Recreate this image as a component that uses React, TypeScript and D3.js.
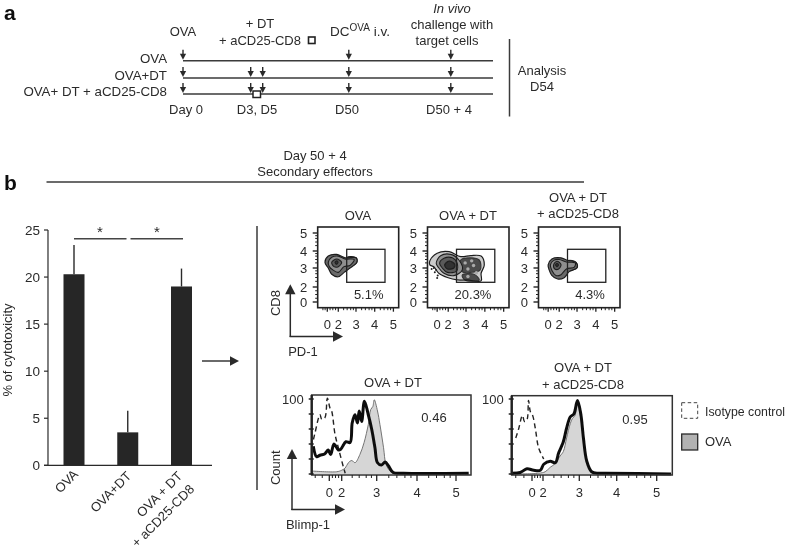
import React from "react";
import * as d3 from "d3";

type P = [number, number];

// ---- panel a ----
const timelineDays = [0, 3, 5, 50, 54];
const rowNames = ["OVA", "OVA+DT", "OVA+ DT + aCD25-CD8"];
const rowArrows = [[0, 50, 54], [0, 3, 5, 50, 54], [0, 3, 5, 50, 54]];
const dayLabels = ["Day 0", "D3, D5", "D50", "D50 + 4"];

// ---- bars ----
const barNames = ["OVA", "OVA+DT", "OVA + DT|+ aCD25-CD8"];
const barValues = [20.3, 3.5, 19];
const barErrors = [23.4, 5.8, 20.9];
const barTicks = [0, 5, 10, 15, 20, 25];

// ---- flow plots ----
const flowTitles = [["OVA"], ["OVA + DT"], ["OVA + DT", "+ aCD25-CD8"]];
const flowPercents = ["5.1%", "20.3%", "4.3%"];
const flowAxisTicks = [0, 2, 3, 4, 5];
const minorTicks = [0.5, 1, 1.5, 2.3, 2.5, 2.7, 2.85, 3.3, 3.5, 3.7, 3.85, 4.3, 4.5, 4.7, 4.85];
const minorTicksNeg = [-0.8, -0.4];

const ova1: P[][] = [
  [[-0.42, 3.33], [0.18, 3.7], [1.7, 3.8], [2.38, 3.6], [3, 3.6], [3.04, 3.33], [2.66, 3], [2.33, 2.77], [2, 2.54], [0.8, 2.67], [0.18, 3]],
  [[0.18, 3.33], [0.8, 3.63], [2, 3.7], [2.38, 3.53], [2.9, 3.5], [2.66, 3.15], [2.32, 3.08], [2, 2.77], [1, 2.9], [0.36, 3.08]],
  [[0.8, 3.33], [1.7, 3.53], [2.19, 3.33], [2, 3.08], [1.22, 3.08]],
  [[1.4, 3.33], [1.7, 3.42], [1.95, 3.33], [1.7, 3.22]],
];
const ovaDt: P[][] = [
  [[-1.33, 3.42], [0, 3.87], [2.05, 3.96], [2.7, 3.67], [3.25, 3.73], [3.8, 3.7], [3.97, 3.18], [3.8, 2.72], [3.8, 2.32], [3.07, 2.37], [2.5, 2.37], [1.85, 2.5], [0.3, 2.72], [-0.6, 3.07], [-1.33, 3.18]],
  [[-0.17, 3.28], [0.62, 3.72], [2.14, 3.8], [2.6, 3.47], [2.79, 2.9], [2.32, 2.6], [1.22, 2.72], [0.31, 3]],
  [[0.44, 3.28], [1.22, 3.57], [2.23, 3.6], [2.5, 3.28], [2.47, 2.84], [1.85, 2.77], [0.93, 3]],
  [[1.35, 3.18], [2.05, 3.41], [2.36, 3.24], [2.32, 3], [1.85, 2.95]],
];
const ovaDtPatches: P[][] = [
  [[2.7, 3.47], [3.25, 3.6], [3.7, 3.47], [3.75, 2.9], [3.25, 2.77], [2.79, 2.8]],
  [[2.79, 2.63], [3.43, 2.67], [3.7, 2.37], [2.93, 2.37]],
];
const ovaDtSpecks: P[] = [[-0.42, 2.77], [0, 2.48], [-0.6, 3], [-1.0, 2.95], [-0.2, 2.9], [0.1, 2.6]];
const ovaDtLights: P[] = [[2.95, 3.3], [3.4, 3.15], [3.1, 2.95], [3.55, 2.75], [3.1, 2.55], [3.3, 3.42]];
const cd25: P[][] = [
  [[0, 3.18], [0.67, 3.53], [2.1, 3.6], [2.47, 3.45], [2.94, 3.33], [3, 3.02], [2.56, 2.81], [2.28, 2.49], [1.7, 2.42], [0.62, 2.63], [0.18, 2.9]],
  [[0.4, 3.18], [1, 3.45], [2, 3.5], [2.4, 3.35], [2.9, 3.3], [2.85, 3.05], [2.4, 2.95], [2.1, 2.65], [1.4, 2.6], [0.7, 2.85]],
  [[1, 3.2], [1.6, 3.4], [2.1, 3.2], [1.9, 2.95], [1.2, 2.95]],
  [[1.35, 3.18], [1.6, 3.28], [1.85, 3.18], [1.6, 3.08]],
];
const flowRings = [ova1, ovaDt, cd25];
const flowPatches: P[][][] = [[[[2.5, 3.62], [3, 3.6], [3.04, 3.33], [2.66, 3.1]]], ovaDtPatches, [[[2.5, 3.42], [2.94, 3.33], [3, 3.02], [2.56, 2.9]]]];
const flowSpecks: P[][] = [[], ovaDtSpecks, []];
const flowLights: P[][] = [[], ovaDtLights, []];

// ---- histograms ----
const histCountTicks = [0, 20, 40, 60, 80, 100];
const h1Thick: P[] = [[-0.91, 37], [-0.72, 23], [-0.53, 25], [-0.25, 27], [-0.06, 32], [0.22, 26], [0.76, 40], [1.46, 32], [1.84, 33], [2.12, 43], [2.24, 42], [2.3, 68], [2.38, 79], [2.45, 68], [2.5, 84], [2.57, 70], [2.65, 97], [2.76, 79], [2.86, 59], [2.95, 35], [3.02, 15], [3.12, 12], [3.21, 16], [3.29, 11], [3.41, 2], [3.66, 1], [5.33, 1]];
const h1Dash: P[] = [[-0.9, 46], [-0.81, 55], [-0.53, 79], [-0.43, 73], [-0.25, 75], [-0.11, 101], [0.11, 88], [0.38, 84], [0.92, 53], [1.46, 35], [2.05, 9], [2.1, 1]];
const h1Fill: P[] = [[-1, 4], [1.19, 3], [2, 5], [2.1, 8], [2.19, 15], [2.29, 18], [2.38, 15], [2.52, 26], [2.64, 42], [2.76, 66], [2.83, 86], [2.89, 90], [2.93, 99], [3.02, 84], [3.08, 66], [3.17, 35], [3.23, 13], [3.33, 4], [3.41, 1], [5.33, 0]];
const h2Thick: P[] = [[-1, 1], [-0.58, 2], [-0.25, 7], [0.3, 5], [1.52, 5], [2.02, 13], [2.2, 17], [2.34, 15], [2.43, 28], [2.56, 43], [2.65, 61], [2.75, 76], [2.85, 80], [2.95, 98], [3.04, 80], [3.11, 48], [3.2, 17], [3.33, 3], [3.51, 1], [3.69, 1], [5.36, 0]];
const h2Dash: P[] = [[-0.8, 48], [-0.67, 59], [-0.47, 78], [-0.37, 70], [-0.25, 72], [-0.17, 98], [-0.08, 83], [0.12, 78], [0.6, 61], [1.2, 35], [2.02, 20]];
const h2Fill: P[] = [[-1, 0], [1.2, 1], [2.06, 3], [2.2, 9], [2.34, 14], [2.47, 24], [2.56, 30], [2.65, 48], [2.75, 67], [2.81, 74], [2.88, 78], [2.95, 93], [3.02, 80], [3.11, 48], [3.2, 17], [3.29, 5], [3.42, 1], [3.69, 0], [5.36, 0]];

const INK = "#2b2b2b";
const FONT = "'Liberation Sans', Arial, sans-serif";

function Arrowhead({ x, y, dir, size = 10 }: { x: number; y: number; dir: "up" | "right" | "down"; size?: number }) {
  const s = size, w = size * 0.52;
  const d =
    dir === "up" ? `M${x},${y}L${x - w},${y + s}L${x + w},${y + s}Z`
    : dir === "down" ? `M${x},${y}L${x - w},${y - s}L${x + w},${y - s}Z`
    : `M${x},${y}L${x - s},${y - w}L${x - s},${y + w}Z`;
  return <path d={d} fill={INK} />;
}

function T(props: any) {
  return <text fontFamily={FONT} fill={INK} fontSize={13} textAnchor="middle" dominantBaseline="central" {...props} />;
}

function PanelA() {
  const x = d3.scaleLinear().domain(timelineDays).range([183, 250.7, 262.7, 348.8, 450.8]);
  const y = d3.scalePoint<string>().domain(rowNames).range([60.7, 94]);
  const rowY = [y(rowNames[0])!, 78, y(rowNames[2])!];
  const dayX = [186, 257, 347, 449];
  return (
    <g>
      <text x={4} y={20} fontFamily={FONT} fontWeight="bold" fontSize={21} fill="#111">a</text>
      <T x={183} y={31}>OVA</T>
      <T x={260} y={23.5}>+ DT</T>
      <T x={260} y={40}>+ aCD25-CD8</T>
      <rect x={308.5} y={37} width={6.5} height={6.5} fill="none" stroke="#222" strokeWidth={1.6} />
      <text x={330} y={36} fontFamily={FONT} fill={INK} fontSize={13.5}>
        DC<tspan fontSize={10} dy={-5}>OVA</tspan><tspan dy={5}> i.v.</tspan>
      </text>
      <T x={452} y={8} fontStyle="italic">In vivo</T>
      <T x={452} y={24.5}>challenge with</T>
      <T x={447} y={40}>target cells</T>
      {rowNames.map((r, i) => (
        <g key={r}>
          <T x={167} y={rowY[i] - 2.2} textAnchor="end" fontSize={13.3}>{r}</T>
          <line x1={x(0)} x2={493} y1={rowY[i]} y2={rowY[i]} stroke="#3a3a3a" strokeWidth={1.5} />
          {rowArrows[i].map((d) => (
            <g key={d}>
              <line x1={x(d)} x2={x(d)} y1={rowY[i] - 11} y2={rowY[i] - 4} stroke={INK} strokeWidth={1.4} />
              <Arrowhead x={x(d)} y={rowY[i] - 1} dir="down" size={6} />
            </g>
          ))}
        </g>
      ))}
      <rect x={253} y={91} width={7.5} height={6.5} fill="#fff" stroke="#222" strokeWidth={1.5} />
      {dayLabels.map((d, i) => <T key={d} x={dayX[i]} y={109}>{d}</T>)}
      <line x1={509.5} x2={509.5} y1={39} y2={116.5} stroke="#3a3a3a" strokeWidth={1.5} />
      <T x={542} y={70}>Analysis</T>
      <T x={542} y={86}>D54</T>
    </g>
  );
}

function BarChart() {
  const y = d3.scaleLinear().domain([0, 25]).range([465.3, 230]);
  const x = d3.scalePoint<string>().domain(barNames).range([74, 181.5]);
  const w = 21;
  return (
    <g>
      <line x1={48} x2={48} y1={y(25)} y2={y(0)} stroke={INK} strokeWidth={1.2} />
      <line x1={44} x2={212} y1={y(0)} y2={y(0)} stroke={INK} strokeWidth={1.2} />
      {barTicks.map((t) => (
        <g key={t}>
          <line x1={44} x2={48} y1={y(t)} y2={y(t)} stroke={INK} strokeWidth={1.2} />
          <T x={40} y={y(t)} fontSize={13.5} textAnchor="end">{t}</T>
        </g>
      ))}
      <T x={7.5} y={350} transform="rotate(-90 7.5 350)">% of cytotoxicity</T>
      {barNames.map((n, i) => (
        <g key={n}>
          <line x1={x(n)!} x2={x(n)!} y1={y(barErrors[i])} y2={y(barValues[i])} stroke={INK} strokeWidth={1.4} />
          <rect x={x(n)! - w / 2} width={w} y={y(barValues[i])} height={y(0) - y(barValues[i])} fill="#262626" />
        </g>
      ))}
      <T x={79} y={475} textAnchor="end" dominantBaseline="auto" transform="rotate(-45 79 475)">OVA</T>
      <T x={132} y={477} textAnchor="end" dominantBaseline="auto" transform="rotate(-45 132 477)">OVA+DT</T>
      <T x={183} y={477} textAnchor="end" dominantBaseline="auto" transform="rotate(-45 183 477)">OVA + DT</T>
      <T x={195} y={490} textAnchor="end" dominantBaseline="auto" transform="rotate(-45 195 490)">+ aCD25-CD8</T>
      <line x1={74} x2={126.5} y1={238.7} y2={238.7} stroke="#444" strokeWidth={1.4} />
      <line x1={130.5} x2={183} y1={238.7} y2={238.7} stroke="#444" strokeWidth={1.4} />
      <T x={100} y={231} fontSize={15}>*</T>
      <T x={157} y={231} fontSize={15}>*</T>
      <line x1={202} x2={232} y1={361} y2={361} stroke={INK} strokeWidth={1.4} />
      <Arrowhead x={239} y={361} dir="right" size={9} />
      <line x1={257} x2={257} y1={226} y2={490} stroke="#3a3a3a" strokeWidth={1.5} />
    </g>
  );
}

function FlowPlot({ i, left, right }: { i: number; left: number; right: number }) {
  const top = 227, h = 80.7, w = right - left;
  const k = w / 81;
  const x = d3.scaleLinear().domain([-1.75, 0, 2, 3, 4, 5, 5.28]).range([0, 9.6, 20.6, 38.3, 57, 75.7, 81].map((v) => left + v * k));
  const y = d3.scaleLinear().domain([5.33, 5, 4, 3, 2, 0, -0.4]).range([0, 6, 24, 41, 60, 75, 80.7].map((v) => top + v));
  const ring = d3.line<P>().x((d) => x(d[0])).y((d) => y(d[1])).curve(d3.curveCatmullRomClosed.alpha(0.5));
  const patch = d3.line<P>().x((d) => x(d[0])).y((d) => y(d[1])).curve(d3.curveCatmullRomClosed.alpha(0.5));
  const fills = ["#6a6a6a", "#8e8e8e", "#5a5a5a", "#303030"];
  const gateL = left + 29, gateR = left + 67.3;
  return (
    <g>
      {flowPatches[i].map((p, j) => (
        <path key={j} d={patch(p)!} fill="#3c3c3c" stroke="#1c1c1c" strokeWidth={1.2} strokeLinejoin="round" />
      ))}
      {flowRings[i].map((r, j) => (
        <path key={j} d={ring(r)!} fill={j === 0 && i === 1 ? "#6a6a6a" : fills[j]} stroke="#1f1f1f" strokeWidth={j === 0 ? 1.2 : 1.1} fillOpacity={j === 0 && i === 1 ? 0.35 : 1} />
      ))}
      {flowLights[i].map((p, j) => <circle key={j} cx={x(p[0])} cy={y(p[1])} r={1.7} fill="#aaa" />)}
      {flowSpecks[i].map((p, j) => <circle key={j} cx={x(p[0])} cy={y(p[1])} r={1} fill="#222" />)}
      <rect x={gateL} y={249.3} width={gateR - gateL} height={33} fill="none" stroke="#222" strokeWidth={1.3} />
      <rect x={left} y={top} width={w} height={h} fill="none" stroke="#222" strokeWidth={1.6} />
      {flowAxisTicks.map((t) => (
        <g key={t}>
          <line x1={left - 5} x2={left} y1={y(t)} y2={y(t)} stroke="#222" strokeWidth={1.4} />
          <T x={left - 10.5} y={y(t)} fontSize={13} textAnchor="end">{t}</T>
          <line x1={x(t)} x2={x(t)} y1={top + h} y2={top + h + 4} stroke="#222" strokeWidth={1.3} />
          <T x={x(t)} y={324} fontSize={13}>{t}</T>
        </g>
      ))}
      {minorTicks.map((t) => (
        <g key={t}>
          <line x1={left - 2.5} x2={left} y1={y(t)} y2={y(t)} stroke="#222" strokeWidth={1} />
          <line x1={x(t)} x2={x(t)} y1={top + h} y2={top + h + 2.5} stroke="#222" strokeWidth={1} />
        </g>
      ))}
      {minorTicksNeg.map((t) => (
        <line key={t} x1={x(t)} x2={x(t)} y1={top + h} y2={top + h + 2.5} stroke="#222" strokeWidth={1} />
      ))}
    </g>
  );
}

function Hist({ left, right, top, ranges, thick, dash, fill }: { left: number; right: number; top: number; ranges: number[]; thick: P[]; dash: P[]; fill: P[] }) {
  const bottom = 475;
  const x = d3.scaleLinear().domain([-1, 0, 2, 3, 4, 5, 5.39]).range([left, ...ranges, right]);
  const y = d3.scaleLinear().domain([0, 100]).range([bottom - 1, 399]);
  const line = d3.line<P>().x((d) => x(d[0])).y((d) => y(d[1])).curve(d3.curveCatmullRom.alpha(0.5));
  const area = d3.area<P>().x((d) => x(d[0])).y0(y(0)).y1((d) => y(d[1])).curve(d3.curveCatmullRom.alpha(0.5));
  return (
    <g>
      <path d={area(fill)!} fill="#d6d6d6" stroke="none" />
      <path d={line(fill)!} fill="none" stroke="#666" strokeWidth={0.9} />
      <path d={line(dash)!} fill="none" stroke="#222" strokeWidth={1.4} strokeDasharray="5 3.5" />
      <path d={line(thick)!} fill="none" stroke="#111" strokeWidth={3} strokeLinejoin="round" />
      <rect x={left} y={top} width={right - left} height={bottom - top} fill="none" stroke="#333" strokeWidth={1.5} />
      <line x1={left} x2={left} y1={top} y2={bottom} stroke="#222" strokeWidth={2.4} />
      {histCountTicks.map((t) => (
        <line key={t} x1={left - 3} x2={left + 2} y1={y(t)} y2={y(t)} stroke="#222" strokeWidth={1.5} />
      ))}
      <T x={left - 8} y={399} fontSize={13} textAnchor="end">100</T>
      {flowAxisTicks.map((t) => (
        <g key={t}>
          <line x1={x(t)} x2={x(t)} y1={bottom} y2={bottom + 6} stroke="#222" strokeWidth={1.3} />
          <T x={x(t)} y={492.7} fontSize={13}>{t}</T>
        </g>
      ))}
      {[...minorTicksNeg, ...minorTicks].map((t) => (
        <line key={t} x1={x(t)} x2={x(t)} y1={bottom} y2={bottom + 3} stroke="#222" strokeWidth={1} />
      ))}
    </g>
  );
}

function PanelB() {
  return (
    <g>
      <text x={4} y={190} fontFamily={FONT} fontWeight="bold" fontSize={21} fill="#111">b</text>
      <T x={315} y={155}>Day 50 + 4</T>
      <T x={315} y={171}>Secondary effectors</T>
      <line x1={46.5} x2={584} y1={182} y2={182} stroke="#3a3a3a" strokeWidth={1.4} />
      <BarChart />
      <FlowPlot i={0} left={317.7} right={398.7} />
      <FlowPlot i={1} left={427.5} right={509} />
      <FlowPlot i={2} left={538.5} right={620} />
      <T x={358} y={215.5}>{flowTitles[0][0]}</T>
      <T x={468} y={215.5}>{flowTitles[1][0]}</T>
      <T x={578} y={197}>{flowTitles[2][0]}</T>
      <T x={578} y={213.5}>{flowTitles[2][1]}</T>
      <T x={368.7} y={294}>{flowPercents[0]}</T>
      <T x={473} y={294}>{flowPercents[1]}</T>
      <T x={590} y={294}>{flowPercents[2]}</T>
      <line x1={290.3} x2={290.3} y1={292} y2={337} stroke={INK} strokeWidth={1.5} />
      <line x1={289.6} x2={335} y1={336.5} y2={336.5} stroke={INK} strokeWidth={1.5} />
      <Arrowhead x={290.3} y={284.3} dir="up" />
      <Arrowhead x={343} y={336.5} dir="right" />
      <T x={275} y={303} transform="rotate(-90 275 303)">CD8</T>
      <T x={303} y={351}>PD-1</T>

      <Hist left={311.7} right={471} top={395} ranges={[329.3, 341.7, 376.7, 417, 456]} thick={h1Thick} dash={h1Dash} fill={h1Fill} />
      <Hist left={511.7} right={672.3} top={395.7} ranges={[532, 543, 579.3, 616.7, 656.7]} thick={h2Thick} dash={h2Dash} fill={h2Fill} />
      <T x={393} y={382}>OVA + DT</T>
      <T x={583} y={367}>OVA + DT</T>
      <T x={583} y={384}>+ aCD25-CD8</T>
      <T x={434} y={417}>0.46</T>
      <T x={635} y={419}>0.95</T>
      <line x1={292} x2={292} y1={457} y2={510} stroke={INK} strokeWidth={1.5} />
      <line x1={291.3} x2={337} y1={509.5} y2={509.5} stroke={INK} strokeWidth={1.5} />
      <Arrowhead x={292} y={449} dir="up" />
      <Arrowhead x={345} y={509.5} dir="right" />
      <T x={276} y={467.7} transform="rotate(-90 276 467.7)">Count</T>
      <T x={308} y={524}>Blimp-1</T>
      <rect x={681.7} y={402.7} width={16} height={15.6} fill="none" stroke="#444" strokeWidth={1} strokeDasharray="3.5 2.5" />
      <rect x={681.7} y={434} width={16} height={16} fill="#b2b2b2" stroke="#2a2a2a" strokeWidth={1.3} />
      <T x={705} y={411.5} textAnchor="start" fontSize={12.3}>Isotype control</T>
      <T x={705} y={441.5} textAnchor="start">OVA</T>
    </g>
  );
}

export default function App() {
  return (
    <svg width={788} height={554} viewBox="0 0 788 554" style={{ position: "absolute", left: 0, top: 0, background: "#fff" }}>
      <defs>
        <filter id="soft" x="0" y="0" width="100%" height="100%">
          <feGaussianBlur stdDeviation="0.4" />
        </filter>
      </defs>
      <rect width={788} height={554} fill="#fff" />
      <g filter="url(#soft)">
        <PanelA />
        <PanelB />
      </g>
    </svg>
  );
}
